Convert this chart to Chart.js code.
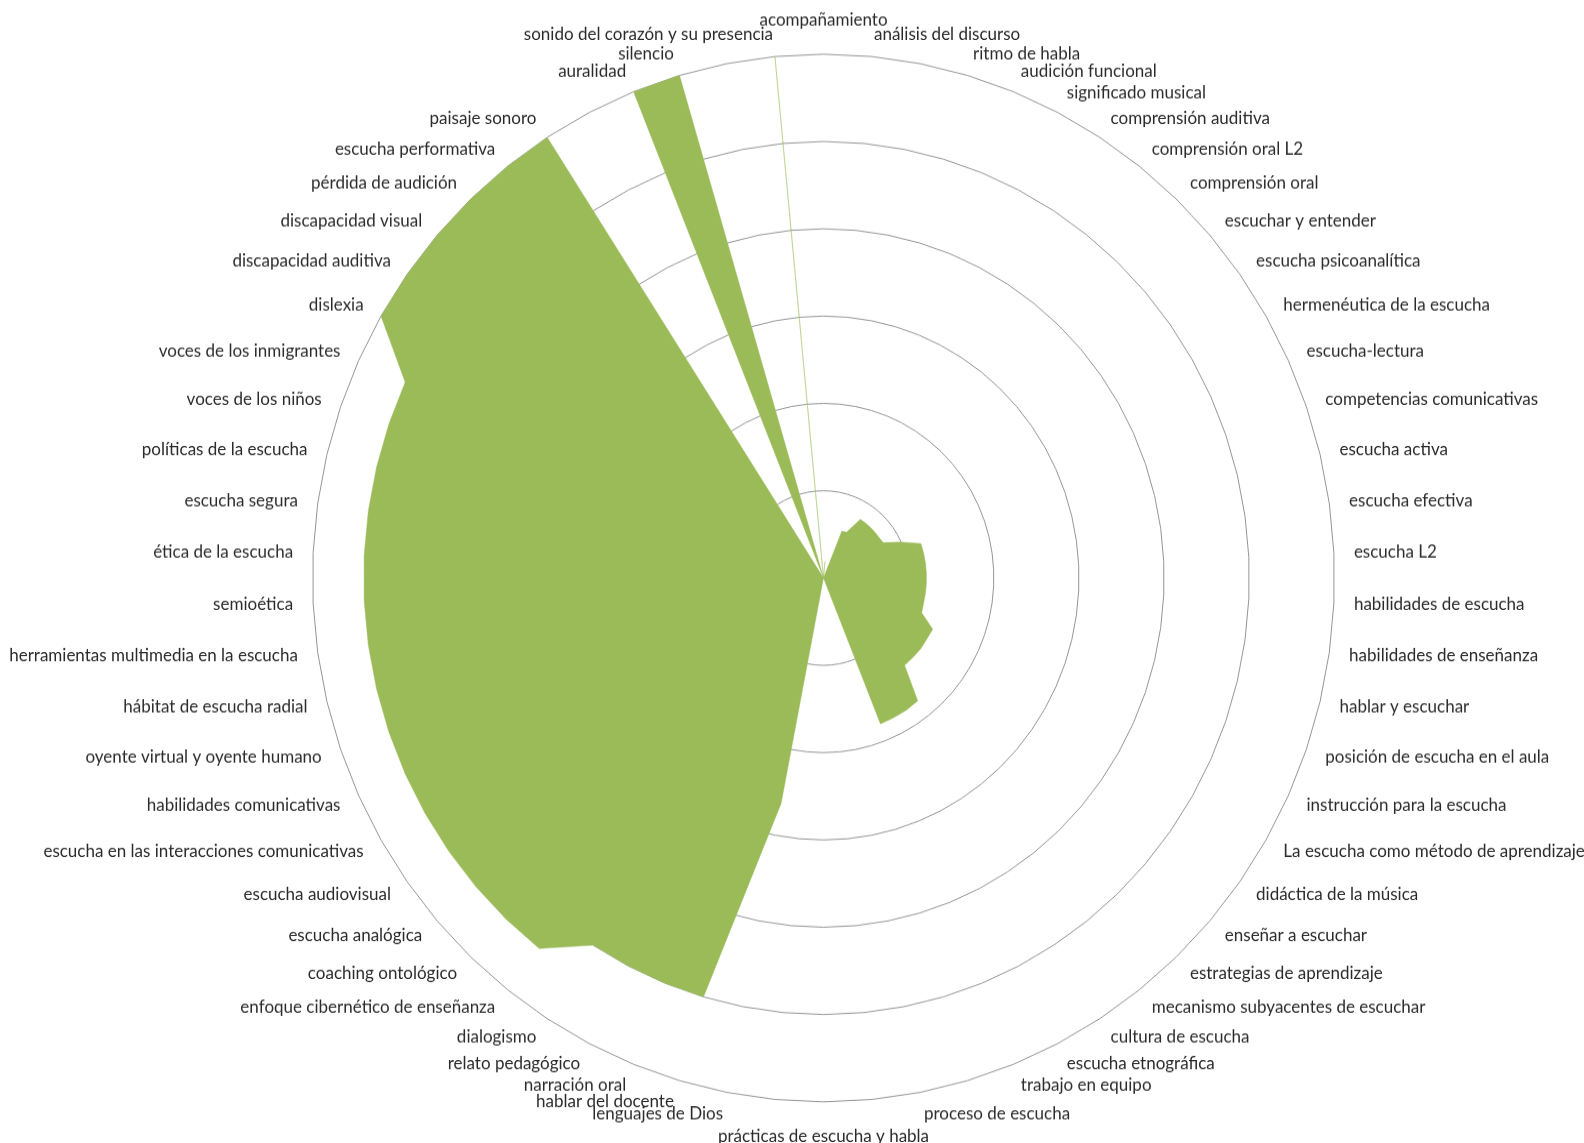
<!DOCTYPE html>
<html>
<head>
<meta charset="utf-8">
<script src="https://cdn.jsdelivr.net/npm/chart.js@4.4.0/dist/chart.umd.min.js"></script>
<style>
html,body{margin:0;padding:0;background:#fff;}
</style>
</head>
<body>
<canvas id="radar" width="1584" height="1115" style="display:block;width:1584px;height:1143px"></canvas>
<script>
const categories=[
"acompañamiento","análisis del discurso","","ritmo de habla","audición funcional","significado musical",
"comprensión auditiva","comprensión oral L2","comprensión oral","escuchar y entender","escucha psicoanalítica",
"hermenéutica de la escucha","escucha-lectura","competencias comunicativas","escucha activa","escucha efectiva",
"escucha L2","habilidades de escucha","habilidades de enseñanza","hablar y escuchar","posición de escucha en el aula",
"instrucción para la escucha","La escucha como método de aprendizaje","didáctica de la música","enseñar a escuchar",
"estrategias de aprendizaje","mecanismo subyacentes de escuchar","cultura de escucha","escucha etnográfica",
"trabajo en equipo","","proceso de escucha","","prácticas de escucha y habla","","lenguajes de Dios",
"hablar del docente","narración oral","relato pedagógico","dialogismo","enfoque cibernético de enseñanza",
"coaching ontológico","escucha analógica","escucha audiovisual","escucha en las interacciones comunicativas",
"habilidades comunicativas","oyente virtual y oyente humano","hábitat de escucha radial",
"herramientas multimedia en la escucha","semioética","ética de la escucha","escucha segura",
"políticas de la escucha","voces de los niños","voces de los inmigrantes","dislexia","discapacidad auditiva",
"discapacidad visual","pérdida de audición","escucha performativa","paisaje sonoro","","auralidad","silencio","",
"sonido del corazón y su presencia"
];

const values=[
0,0.19,0,0,0.58,0.59,
0.8,0.8,0.8,0.8,0.8,
0.81,0.99,1.21,1.21,1.21,
1.21,1.21,1.21,1.21,1.22,
1.41,1.4,1.4,1.39,
1.38,1.79,1.8,1.8,
1.8,0,0,0,0,0,2.63,
5,5,5,5,5.4,
5.4,5.4,5.4,5.4,
5.4,5.4,5.4,
5.4,5.4,5.4,5.4,
5.4,5.4,5.4,6,6,
6,6,6,6,0,6,6,0,
6
];

const ringMax=6;
const ringStep=1;

// the reference is a bit taller than wide, canvas gets stretched by css
const STRETCH=1143/1115;
const CX=823.5;
const CY=578/STRETCH;
const R=511;
const LABEL_SIDE=R+20;
const LABEL_OUT=546/STRETCH;
const LABEL_TOP=558/STRETCH;

// put the center, radius and category labels where the excel picture has them
const placeRadar={
id:"placeRadar",
afterLayout(chart){
const s=chart.scales.r;
s.xCenter=CX;
s.yCenter=CY;
s.drawingArea=R;
const font=Chart.helpers.toFont(s.options.pointLabels.font);
const n=s._pointLabels.length;
s._pointLabelItems=s._pointLabels.map((label,i)=>{
const a=i*360/n;
const rad=a*Math.PI/180;
const align=(a===0||a===180)?"center":(a<180?"left":"right");
const dist=(a===0||a===180)?LABEL_TOP:LABEL_OUT;
const x=CX+LABEL_SIDE*Math.sin(rad);
const y=CY-dist*Math.cos(rad)-font.lineHeight/2;
return {visible:true,x:x,y:y,textAlign:align,left:x,right:x,top:y,bottom:y+font.lineHeight};
});
}
};

new Chart(document.getElementById("radar"),{
type:"radar",
data:{
labels:categories,
datasets:[{
data:values,
backgroundColor:"#9BBB59",
borderColor:"rgba(155,187,89,0.4)",
borderWidth:1,
borderJoinStyle:"bevel",
pointRadius:0,
pointHoverRadius:0,
fill:true
}]
},
options:{
responsive:false,
animation:false,
plugins:{legend:{display:false},tooltip:{enabled:false}},
scales:{
r:{
min:0,
max:ringMax,
ticks:{display:false,stepSize:ringStep},
angleLines:{display:false},
grid:{circular:false,color:"#959595",lineWidth:1},
pointLabels:{
color:"#2b2b2b",
font:{family:"Lato",size:17}
}
}
}
},
plugins:[placeRadar]
});
</script>
</body>
</html>
